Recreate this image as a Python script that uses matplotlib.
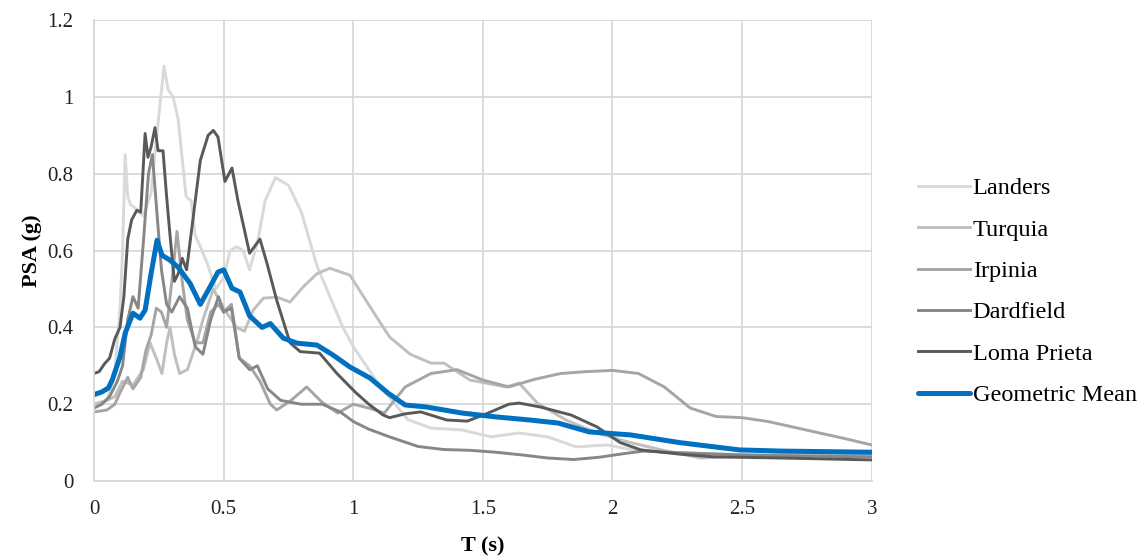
import matplotlib.pyplot as plt

# Response spectra (period T in s, PSA in g)
landers_t = [0, 0.05, 0.08, 0.10, 0.11, 0.12, 0.13, 0.14, 0.16, 0.19, 0.22, 0.245, 0.27, 0.285, 0.305, 0.325,
             0.34, 0.355, 0.375, 0.39, 0.41, 0.435, 0.47, 0.50, 0.525, 0.55, 0.575, 0.60, 0.63, 0.66, 0.70,
             0.75, 0.80, 0.86, 0.91, 0.96, 1.0, 1.05, 1.1, 1.15, 1.21, 1.3, 1.42, 1.53, 1.64, 1.75, 1.86,
             1.98, 2.08, 2.2, 2.4, 2.6, 2.8, 3.0]
landers = [0.20, 0.21, 0.28, 0.45, 0.60, 0.85, 0.74, 0.72, 0.71, 0.69, 0.75, 0.92, 1.08, 1.02, 1.00, 0.94,
           0.84, 0.74, 0.73, 0.64, 0.61, 0.57, 0.50, 0.53, 0.60, 0.61, 0.60, 0.55, 0.62, 0.73, 0.79,
           0.77, 0.70, 0.56, 0.48, 0.40, 0.35, 0.30, 0.25, 0.21, 0.16, 0.138, 0.133, 0.115, 0.125, 0.115, 0.089,
           0.094, 0.081, 0.075, 0.070, 0.068, 0.066, 0.065]

turquia_t = [0, 0.05, 0.08, 0.11, 0.15, 0.19, 0.216, 0.243, 0.262, 0.28, 0.293, 0.31, 0.33, 0.36, 0.40, 0.42,
             0.46, 0.50, 0.55, 0.58, 0.614, 0.653, 0.705, 0.756, 0.806, 0.86, 0.91, 0.987, 1.09, 1.14, 1.22,
             1.3, 1.35, 1.45, 1.59, 1.64, 1.71, 1.82, 1.94, 2.07, 2.19, 2.34, 2.45, 2.65, 3.0]
turquia = [0.20, 0.21, 0.22, 0.26, 0.25, 0.29, 0.36, 0.315, 0.28, 0.36, 0.40, 0.33, 0.28, 0.29, 0.37, 0.42,
           0.50, 0.45, 0.40, 0.39, 0.445, 0.476, 0.479, 0.466, 0.505, 0.54, 0.554, 0.536, 0.427, 0.375, 0.33,
           0.307, 0.307, 0.263, 0.245, 0.255, 0.203, 0.159, 0.125, 0.10, 0.081, 0.060, 0.063, 0.068, 0.068]

irpinia_t = [0, 0.05, 0.08, 0.10, 0.13, 0.15, 0.18, 0.20, 0.22, 0.24, 0.26, 0.28, 0.30, 0.32, 0.34, 0.36,
             0.39, 0.42, 0.45, 0.48, 0.50, 0.53, 0.56, 0.60, 0.64, 0.68, 0.705, 0.76, 0.82, 0.88, 0.94, 1.0,
             1.06, 1.12, 1.2, 1.3, 1.4, 1.5, 1.6, 1.7, 1.8, 1.9, 2.0, 2.1, 2.2, 2.3, 2.4, 2.5, 2.6, 2.7,
             2.8, 2.9, 3.0]
irpinia = [0.18, 0.185, 0.20, 0.23, 0.27, 0.24, 0.27, 0.34, 0.38, 0.45, 0.44, 0.40, 0.52, 0.65, 0.52, 0.42,
           0.36, 0.36, 0.44, 0.46, 0.44, 0.46, 0.32, 0.30, 0.26, 0.20, 0.185, 0.21, 0.245, 0.205, 0.177, 0.20,
           0.19, 0.177, 0.245, 0.28, 0.29, 0.263, 0.245, 0.265, 0.28, 0.285, 0.288, 0.28, 0.245, 0.19, 0.168,
           0.165, 0.155, 0.14, 0.125, 0.11, 0.094]

dardfield_t = [0, 0.03, 0.06, 0.09, 0.11, 0.13, 0.15, 0.17, 0.19, 0.21, 0.225, 0.24, 0.26, 0.28, 0.30, 0.33,
               0.36, 0.39, 0.42, 0.45, 0.48, 0.50, 0.53, 0.56, 0.60, 0.63, 0.67, 0.72, 0.80, 0.88, 0.95, 1.0,
               1.06, 1.14, 1.25, 1.35, 1.45, 1.55, 1.65, 1.75, 1.85, 1.95, 2.05, 2.12, 2.25, 2.5, 2.75, 3.0]
dardfield = [0.19, 0.20, 0.22, 0.26, 0.30, 0.42, 0.48, 0.45, 0.62, 0.80, 0.85, 0.72, 0.55, 0.46, 0.44, 0.48,
             0.45, 0.35, 0.33, 0.42, 0.48, 0.44, 0.45, 0.32, 0.29, 0.30, 0.24, 0.21, 0.20, 0.20, 0.18, 0.155,
             0.135, 0.115, 0.09, 0.082, 0.08, 0.075, 0.068, 0.06, 0.056, 0.062, 0.072, 0.078, 0.074, 0.068,
             0.065, 0.063]

loma_t = [0, 0.02, 0.04, 0.06, 0.08, 0.10, 0.115, 0.13, 0.145, 0.165, 0.18, 0.197, 0.208, 0.22, 0.235, 0.247,
          0.266, 0.28, 0.293, 0.31, 0.325, 0.34, 0.357, 0.383, 0.41, 0.44, 0.46, 0.478, 0.505, 0.532, 0.555,
          0.60, 0.64, 0.667, 0.705, 0.756, 0.795, 0.87, 0.937, 1.01, 1.06, 1.115, 1.14, 1.2, 1.26, 1.36,
          1.44, 1.52, 1.6, 1.64, 1.72, 1.84, 1.94, 2.03, 2.11, 2.26, 2.39, 2.65, 3.0]
loma = [0.28, 0.285, 0.305, 0.32, 0.37, 0.40, 0.48, 0.63, 0.68, 0.705, 0.70, 0.905, 0.843, 0.87, 0.92, 0.86,
        0.86, 0.74, 0.64, 0.52, 0.54, 0.58, 0.55, 0.69, 0.835, 0.90, 0.913, 0.896, 0.78, 0.815, 0.73,
        0.593, 0.63, 0.567, 0.47, 0.36, 0.337, 0.333, 0.28, 0.23, 0.20, 0.172, 0.165, 0.175, 0.18, 0.159,
        0.156, 0.177, 0.20, 0.203, 0.193, 0.172, 0.141, 0.10, 0.081, 0.07, 0.063, 0.06, 0.055]

gm_t = [0, 0.03, 0.055, 0.07, 0.10, 0.12, 0.15, 0.177, 0.197, 0.22, 0.243, 0.262, 0.293, 0.324, 0.37, 0.41,
        0.447, 0.478, 0.50, 0.532, 0.563, 0.60, 0.648, 0.68, 0.73, 0.783, 0.86, 0.922, 0.987, 1.065, 1.134,
        1.2, 1.28, 1.42, 1.55, 1.68, 1.79, 1.91, 2.07, 2.26, 2.49, 2.65, 3.0]
gm = [0.225, 0.232, 0.242, 0.263, 0.323, 0.385, 0.437, 0.424, 0.445, 0.54, 0.627, 0.588, 0.575, 0.557, 0.515, 0.46,
      0.505, 0.544, 0.55, 0.502, 0.492, 0.43, 0.40, 0.41, 0.372, 0.359, 0.354, 0.328, 0.297, 0.268, 0.229,
      0.198, 0.193, 0.177, 0.167, 0.159, 0.151, 0.128, 0.12, 0.10, 0.081, 0.078, 0.075]

x_ticks = [0, 0.5, 1, 1.5, 2, 2.5, 3]
x_tick_labels = ['0', '0.5', '1', '1.5', '2', '2.5', '3']
y_ticks = [0, 0.2, 0.4, 0.6, 0.8, 1.0, 1.2]
y_tick_labels = ['0', '0.2', '0.4', '0.6', '0.8', '1', '1.2']

plt.rcParams['font.family'] = ['Liberation Serif', 'DejaVu Serif']

fig = plt.figure(figsize=(11.47, 5.6), dpi=100)
ax = fig.add_axes([0.082, 0.141, 0.678, 0.823])

lw = 2.1
ax.plot(landers_t, landers, color='#D9D9D9', lw=lw, label='Landers', solid_joinstyle='round')
ax.plot(turquia_t, turquia, color='#BFBFBF', lw=lw, label='Turquia', solid_joinstyle='round')
ax.plot(irpinia_t, irpinia, color='#A5A5A5', lw=lw, label='Irpinia', solid_joinstyle='round')
ax.plot(dardfield_t, dardfield, color='#878787', lw=lw, label='Dardfield', solid_joinstyle='round')
ax.plot(loma_t, loma, color='#595959', lw=lw, label='Loma Prieta', solid_joinstyle='round')
ax.plot(gm_t, gm, color='#0070C0', lw=3.6, label='Geometric Mean', solid_joinstyle='round',
        solid_capstyle='round')

ax.set_xlim(0, 3)
ax.set_ylim(0, 1.2)
ax.set_xticks(x_ticks)
ax.set_xticklabels(x_tick_labels)
ax.set_yticks(y_ticks)
ax.set_yticklabels(y_tick_labels)
ax.tick_params(length=0, labelsize=15, colors='#222222')
ax.tick_params(axis='x', pad=14)
ax.tick_params(axis='y', pad=15)
ax.grid(True, color='#D9D9D9', lw=1.3)
ax.set_axisbelow(True)
for side in ['top', 'right']:
    ax.spines[side].set_visible(False)
for side in ['left', 'bottom']:
    ax.spines[side].set_color('#D9D9D9')
    ax.spines[side].set_linewidth(1.3)

ax.set_xlabel('T (s)', fontsize=16, fontweight='bold', labelpad=12)
ax.set_ylabel('PSA (g)', fontsize=16, fontweight='bold', labelpad=4)

ax.legend(loc='center left', bbox_to_anchor=(0.80, 0.479), bbox_transform=fig.transFigure,
          frameon=False, fontsize=17.5, handlelength=2.15, handletextpad=0.12, labelspacing=0.8,
          borderpad=0, borderaxespad=0)

fig.savefig('out.png', dpi=100)
